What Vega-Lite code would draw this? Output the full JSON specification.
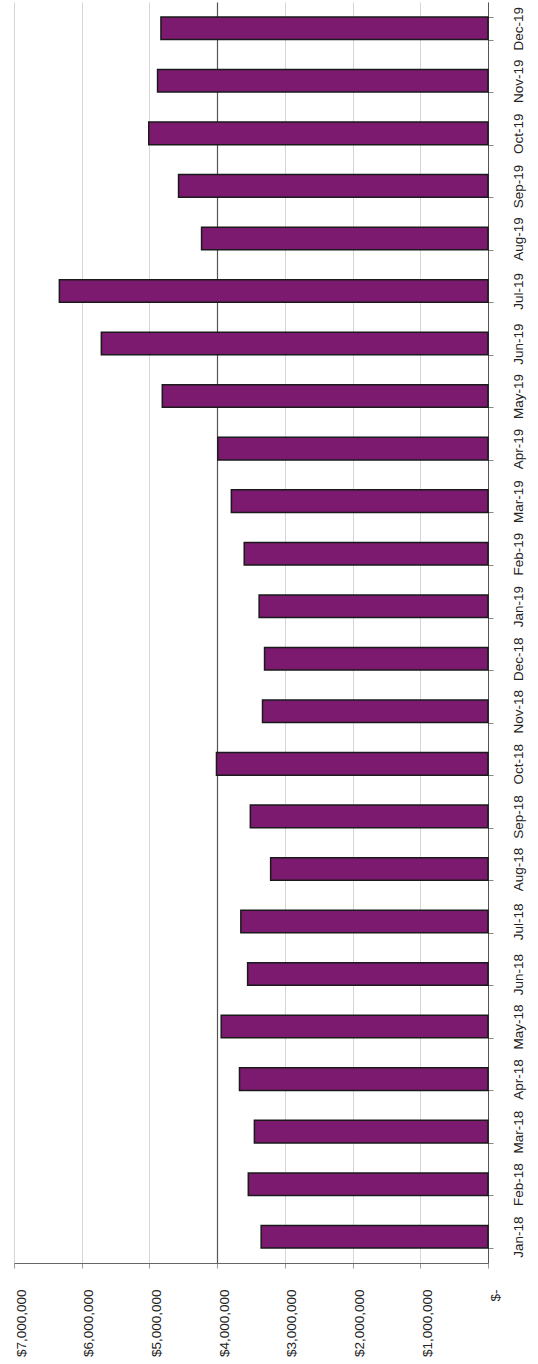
{
  "$schema": "https://vega.github.io/schema/vega-lite/v6.json",
  "autosize": {"type": "none"},
  "padding": {"left": 14, "top": 2, "right": 50, "bottom": 101},
  "width": 474,
  "height": 1261,
  "background": "white",
  "config": {"view": {"stroke": null}},
  "data": {
    "values": [
      {"month": "Jan-18", "amount": 3350000},
      {"month": "Feb-18", "amount": 3540000},
      {"month": "Mar-18", "amount": 3450000},
      {"month": "Apr-18", "amount": 3670000},
      {"month": "May-18", "amount": 3940000},
      {"month": "Jun-18", "amount": 3550000},
      {"month": "Jul-18", "amount": 3650000},
      {"month": "Aug-18", "amount": 3210000},
      {"month": "Sep-18", "amount": 3510000},
      {"month": "Oct-18", "amount": 4010000},
      {"month": "Nov-18", "amount": 3330000},
      {"month": "Dec-18", "amount": 3300000},
      {"month": "Jan-19", "amount": 3380000},
      {"month": "Feb-19", "amount": 3600000},
      {"month": "Mar-19", "amount": 3790000},
      {"month": "Apr-19", "amount": 3990000},
      {"month": "May-19", "amount": 4810000},
      {"month": "Jun-19", "amount": 5710000},
      {"month": "Jul-19", "amount": 6330000},
      {"month": "Aug-19", "amount": 4230000},
      {"month": "Sep-19", "amount": 4570000},
      {"month": "Oct-19", "amount": 5010000},
      {"month": "Nov-19", "amount": 4880000},
      {"month": "Dec-19", "amount": 4830000}
    ]
  },
  "mark": {"type": "bar", "color": "#7b1a6f", "stroke": "#1a1a1a", "strokeWidth": 1.5},
  "encoding": {
    "y": {
      "field": "month",
      "type": "nominal",
      "title": null,
      "scale": {
        "domain": ["Dec-19","Nov-19","Oct-19","Sep-19","Aug-19","Jul-19","Jun-19","May-19","Apr-19","Mar-19","Feb-19","Jan-19","Dec-18","Nov-18","Oct-18","Sep-18","Aug-18","Jul-18","Jun-18","May-18","Apr-18","Mar-18","Feb-18","Jan-18"],
        "paddingInner": 0.57,
        "paddingOuter": 0.285
      },
      "axis": {
        "orient": "right",
        "labelAngle": -90,
        "labelAlign": "center",
        "labelBaseline": "top",
        "labelFont": "Liberation Sans",
        "labelFontSize": 13.5,
        "labelColor": "#222222",
        "labelPadding": 18,
        "tickSize": 5,
        "tickBand": "extent",
        "tickColor": "#888888",
        "domainColor": "#555555",
        "domainWidth": 1,
        "grid": false
      }
    },
    "x": {
      "field": "amount",
      "type": "quantitative",
      "title": null,
      "scale": {"domain": [0, 7000000], "reverse": true, "nice": false},
      "axis": {
        "orient": "bottom",
        "values": [0, 1000000, 2000000, 3000000, 4000000, 5000000, 6000000, 7000000],
        "labelExpr": "datum.value === 0 ? '$-' : '$' + format(datum.value, ',')",
        "labelAngle": -90,
        "labelAlign": "right",
        "labelBaseline": "middle",
        "labelFont": "Liberation Sans",
        "labelFontSize": 13.5,
        "labelColor": "#222222",
        "labelPadding": 21,
        "labelOffset": 7,
        "labelFlush": false,
        "labelOverlap": false,
        "tickSize": 5,
        "tickColor": "#999999",
        "domainColor": "#666666",
        "domainWidth": 1.2,
        "grid": true,
        "gridColor": {"condition": {"test": "datum.value === 4000000", "value": "#555555"}, "value": "#d6d6d6"},
        "gridWidth": {"condition": {"test": "datum.value === 4000000", "value": 1.2}, "value": 1}
      }
    }
  }
}
